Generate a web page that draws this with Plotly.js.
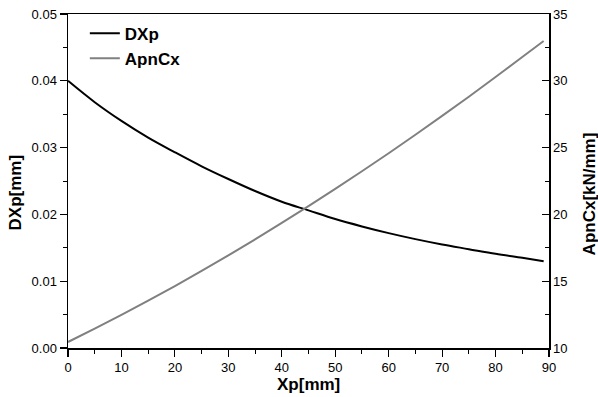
<!DOCTYPE html>
<html>
<head>
<meta charset="utf-8">
<script src="https://cdn.plot.ly/plotly-3.0.1.min.js"></script>
<style>html,body{margin:0;padding:0;background:#fff}#chart{width:598px;height:397px}</style>
</head>
<body>
<div id="chart"></div>
<script>
const xp = [0, 5, 10, 15, 20, 25, 30, 35, 40, 45, 50, 55, 60, 65, 70, 75, 80, 85, 89];
const dxp = [0.0400, 0.0368, 0.0340, 0.0315, 0.0293, 0.0272, 0.0253, 0.0235, 0.0219, 0.0206, 0.0193, 0.0182, 0.0172, 0.0163, 0.0155, 0.0148, 0.0141, 0.0135, 0.0130];
const apncx = [10.45, 11.45, 12.48, 13.54, 14.64, 15.77, 16.93, 18.13, 19.36, 20.62, 21.91, 23.23, 24.58, 25.96, 27.37, 28.81, 30.28, 31.78, 32.98];
const leftTicks = [0.00, 0.01, 0.02, 0.03, 0.04, 0.05];
const leftTickText = ['0.00', '0.01', '0.02', '0.03', '0.04', '0.05'];
const rightTicks = [10, 15, 20, 25, 30, 35];
const xTicks = [0, 10, 20, 30, 40, 50, 60, 70, 80, 90];

const FONT = 'Arial, "Liberation Sans", sans-serif';

const traces = [
  {x: xp, y: dxp, name: 'DXp', type: 'scatter', mode: 'lines',
   line: {color: '#000000', width: 2, shape: 'spline', smoothing: 1}, yaxis: 'y'},
  {x: xp, y: apncx, name: 'ApnCx', type: 'scatter', mode: 'lines',
   line: {color: '#808080', width: 2, shape: 'spline', smoothing: 1}, yaxis: 'y2'}
];

const layout = {
  width: 598, height: 397,
  margin: {l: 68.3, r: 48.7, t: 14.3, b: 48.7, pad: 0},
  paper_bgcolor: '#ffffff', plot_bgcolor: '#ffffff',
  font: {family: FONT, size: 13, color: '#000'},
  showlegend: true,
  legend: {x: 0.035, y: 0.995, xanchor: 'left', yanchor: 'top',
    font: {family: FONT, size: 17, color: '#000', weight: 'bold'},
    bgcolor: 'rgba(0,0,0,0)', borderwidth: 0, tracegroupgap: 0},
  xaxis: {range: [0, 90], tickvals: xTicks, showgrid: false, zeroline: false,
    showline: true, linecolor: '#000', linewidth: 1.5, mirror: true,
    ticks: 'outside', ticklen: 7, tickwidth: 1.2, tickcolor: '#000',
    minor: {dtick: 5, ticks: 'outside', ticklen: 4, tickwidth: 1, tickcolor: '#000', showgrid: false},
    tickfont: {family: FONT, size: 13}},
  yaxis: {range: [0, 0.05], tickvals: leftTicks, ticktext: leftTickText, showgrid: false, zeroline: false,
    showline: true, linecolor: '#000', linewidth: 1.5,
    ticks: 'outside', ticklen: 7, tickwidth: 1.2, tickcolor: '#000',
    minor: {dtick: 0.005, ticks: 'outside', ticklen: 4, tickwidth: 1, tickcolor: '#000', showgrid: false},
    tickfont: {family: FONT, size: 13}},
  yaxis2: {range: [10, 35], tickvals: rightTicks, overlaying: 'y', side: 'right',
    showgrid: false, zeroline: false,
    showline: true, linecolor: '#000', linewidth: 1.5,
    ticks: 'inside', ticklen: 7, tickwidth: 1.2, tickcolor: '#000',
    minor: {dtick: 2.5, ticks: 'inside', ticklen: 4, tickwidth: 1, tickcolor: '#000', showgrid: false},
    tickfont: {family: FONT, size: 13}},
  annotations: [
    {text: 'Xp[mm]', xref: 'paper', yref: 'paper', x: 0.5, y: -0.11,
     xanchor: 'center', yanchor: 'middle', showarrow: false,
     font: {family: FONT, size: 17, color: '#000', weight: 'bold'}},
    {text: 'DXp[mm]', xref: 'paper', yref: 'paper', x: -0.1087, y: 0.465,
     xanchor: 'center', yanchor: 'middle', textangle: -90, showarrow: false,
     font: {family: FONT, size: 17, color: '#000', weight: 'bold'}},
    {text: 'ApnCx[kN/mm]', xref: 'paper', yref: 'paper', x: 1.0846, y: 0.462,
     xanchor: 'center', yanchor: 'middle', textangle: -90, showarrow: false,
     font: {family: FONT, size: 17, color: '#000', weight: 'bold'}}
  ]
};

Plotly.newPlot('chart', traces, layout, {displayModeBar: false, staticPlot: true});
</script>
</body>
</html>
